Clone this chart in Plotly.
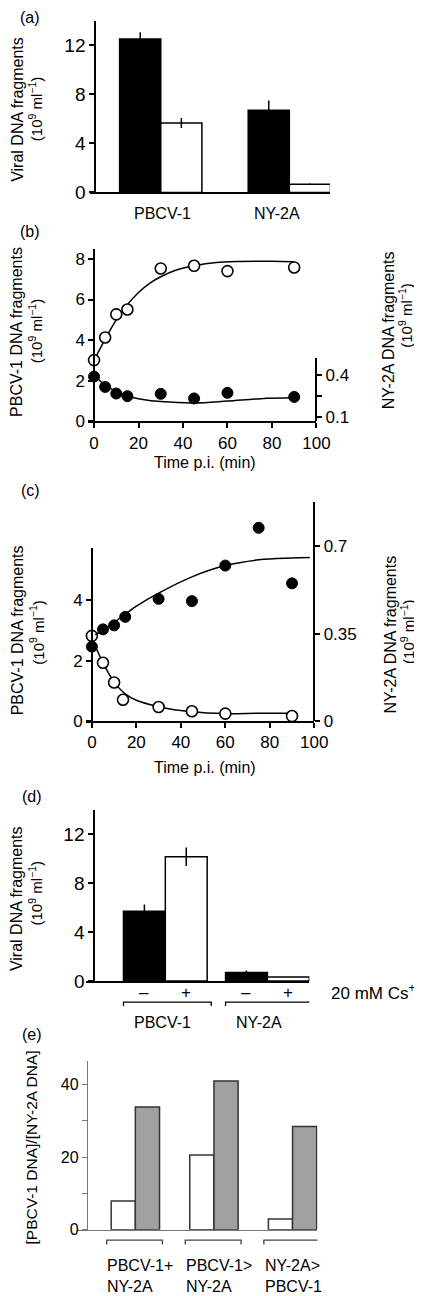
import plotly.graph_objects as go

W, H = 422, 1296
FONT = "Liberation Sans, Arial, sans-serif"


def PX(x):
    return x / W


def PY(y):
    return 1 - y / H


# ---------------- data ----------------
# (a)
a_groups = ["PBCV-1", "NY-2A"]
a_black = [12.5, 6.7]
a_black_err = [0.55, 0.8]
a_white = [5.66, 0.67]
a_white_err = [0.4, 0.05]

# (b)
b_time = [0, 5, 10, 15, 30, 45, 60, 90]
b_pbcv1 = [3.02, 4.13, 5.27, 5.51, 7.53, 7.66, 7.40, 7.58]
b_ny2a = [0.388, 0.314, 0.267, 0.248, 0.265, 0.232, 0.272, 0.243]
b_fit_time_p = [0, 5, 10, 15, 20, 25, 30, 37, 45, 55, 65, 80, 90]
b_fit_pbcv1 = [3.0, 4.05, 5.0, 5.75, 6.35, 6.8, 7.12, 7.45, 7.66, 7.82, 7.87, 7.88, 7.86]
b_fit_time_n = [0, 5, 10, 15, 22, 30, 45, 60, 75, 90]
b_fit_ny2a = [0.40, 0.325, 0.283, 0.25, 0.225, 0.21, 0.20, 0.213, 0.23, 0.236]

# (c)
c_time_p = [0, 5, 10, 14, 30, 45, 60, 90]
c_pbcv1 = [2.82, 1.93, 1.28, 0.71, 0.47, 0.33, 0.25, 0.17]
c_time_n = [0, 5, 10, 15, 30, 45, 60, 75, 90]
c_ny2a = [0.298, 0.367, 0.383, 0.417, 0.489, 0.48, 0.622, 0.773, 0.551]
c_fit_time_p = [0, 5, 10, 15, 20, 30, 45, 60, 75, 90]
c_fit_pbcv1 = [2.75, 1.93, 1.3, 0.9, 0.69, 0.48, 0.31, 0.25, 0.26, 0.26]
c_fit_time_n = [1.5, 5, 10, 15, 20, 30, 45, 60, 75, 90, 98]
c_fit_ny2a = [0.345, 0.365, 0.395, 0.428, 0.46, 0.512, 0.577, 0.622, 0.645, 0.652, 0.654]

# (d)
d_groups = ["PBCV-1", "NY-2A"]
d_signs = ["–", "+"]
d_minus = [5.7, 0.7]
d_minus_err = [0.55, 0.15]
d_plus = [10.16, 0.32]
d_plus_err = [0.75, 0.0]

# (e)
e_groups = ["PBCV-1+<br>NY-2A", "PBCV-1><br>NY-2A", "NY-2A><br>PBCV-1"]
e_white = [7.9, 20.6, 3.0]
e_gray = [33.8, 40.9, 28.4]

# ---------------- figure ----------------
fig = go.Figure()

# (a) bars
wa = 0.32
fig.add_trace(go.Bar(x=a_groups, y=a_black, width=wa, offset=-wa, xaxis="x", yaxis="y",
                     marker=dict(color="black", line=dict(color="black", width=1.5)),
                     error_y=dict(type="data", array=a_black_err, color="black", thickness=1.5, width=0),
                     name="black"))
fig.add_trace(go.Bar(x=a_groups, y=a_white, width=wa, offset=0, xaxis="x", yaxis="y",
                     marker=dict(color="white", line=dict(color="black", width=1.5)),
                     error_y=dict(type="data", array=a_white_err, color="black", thickness=1.5, width=0),
                     name="white"))

# (b)
line_style = dict(color="black", width=1.5, shape="spline", smoothing=1.0)
fig.add_trace(go.Scatter(x=b_fit_time_p, y=b_fit_pbcv1, mode="lines", line=line_style,
                         xaxis="x2", yaxis="y2", name="PBCV-1 fit"))
fig.add_trace(go.Scatter(x=b_fit_time_n, y=b_fit_ny2a, mode="lines", line=line_style,
                         xaxis="x2", yaxis="y3", name="NY-2A fit"))
fig.add_trace(go.Scatter(x=b_time, y=b_pbcv1, mode="markers", cliponaxis=False,
                         marker=dict(size=11, color="white", line=dict(color="black", width=1.6)),
                         xaxis="x2", yaxis="y2", name="PBCV-1"))
fig.add_trace(go.Scatter(x=b_time, y=b_ny2a, mode="markers", cliponaxis=False,
                         marker=dict(size=11, color="black", line=dict(color="black", width=1)),
                         xaxis="x2", yaxis="y3", name="NY-2A"))

# (c)
fig.add_trace(go.Scatter(x=c_fit_time_p, y=c_fit_pbcv1, mode="lines", line=line_style,
                         xaxis="x3", yaxis="y4", name="PBCV-1 fit"))
fig.add_trace(go.Scatter(x=c_fit_time_n, y=c_fit_ny2a, mode="lines", line=line_style,
                         xaxis="x3", yaxis="y5", name="NY-2A fit"))
fig.add_trace(go.Scatter(x=c_time_n, y=c_ny2a, mode="markers", cliponaxis=False,
                         marker=dict(size=11, color="black", line=dict(color="black", width=1)),
                         xaxis="x3", yaxis="y5", name="NY-2A"))
fig.add_trace(go.Scatter(x=c_time_p, y=c_pbcv1, mode="markers", cliponaxis=False,
                         marker=dict(size=11, color="white", line=dict(color="black", width=1.6)),
                         xaxis="x3", yaxis="y4", name="PBCV-1"))

# (d) bars
wd = 0.41
fig.add_trace(go.Bar(x=d_groups, y=d_minus, width=wd, offset=-wd, xaxis="x4", yaxis="y6",
                     marker=dict(color="black", line=dict(color="black", width=1.5)),
                     error_y=dict(type="data", array=d_minus_err, color="black", thickness=1.5, width=0),
                     name="– Cs+"))
fig.add_trace(go.Bar(x=d_groups, y=d_plus, width=wd, offset=0, xaxis="x4", yaxis="y6",
                     marker=dict(color="white", line=dict(color="black", width=1.5)),
                     error_y=dict(type="data", array=d_plus_err, color="black", thickness=1.5, width=0),
                     name="+ Cs+"))

# (e) bars
we = 0.3075
e_idx = list(range(len(e_groups)))
fig.add_trace(go.Bar(x=e_idx, y=e_white, width=we, offset=-we, xaxis="x5", yaxis="y7",
                     marker=dict(color="white", line=dict(color="#333333", width=1.5)), name="white"))
fig.add_trace(go.Bar(x=e_idx, y=e_gray, width=we, offset=0, xaxis="x5", yaxis="y7",
                     marker=dict(color="#a0a0a0", line=dict(color="#333333", width=1.5)), name="gray"))

# ---------------- axes ----------------
def tf(size):
    return dict(family=FONT, size=size, color="black")


base = dict(showline=True, linecolor="black", linewidth=1.5, ticks="outside", ticklen=5,
            tickwidth=1.5, tickcolor="black", showgrid=False, zeroline=False, tickfont=tf(17))
cat = dict(showline=True, linecolor="black", linewidth=1.5, ticks="", showticklabels=False,
           showgrid=False, zeroline=False)

layout_axes = dict(
    # (a)
    xaxis=dict(cat, domain=[PX(85), PX(333)], anchor="y", type="category", range=[-0.549, 1.316]),
    yaxis=dict(base, domain=[PY(186), PY(13)], anchor="free", position=PX(90), range=[0, 13.98],
               tickvals=[0, 4, 8, 12], tickfont=tf(19)),
    # (b)
    xaxis2=dict(base, domain=[PX(83), PX(319)], anchor="y2", range=[-2.6, 100],
                tickvals=[0, 20, 40, 60, 80, 100], ticklen=5),
    yaxis2=dict(base, domain=[PY(417), PY(243)], anchor="free", position=PX(89), range=[0, 8.49],
                tickvals=[0, 2, 4, 6, 8]),
    yaxis3=dict(base, domain=[PY(417), PY(353)], anchor="free", position=PX(319), side="right",
                range=[0.068, 0.52], tickvals=[0.1, 0.25, 0.4], ticktext=["0.1", " ", "0.4"]),
    # (c)
    xaxis3=dict(base, domain=[PX(81), PX(317)], anchor="y4", range=[-2.5, 100.1],
                tickvals=[0, 20, 40, 60, 80, 100]),
    yaxis4=dict(base, domain=[PY(719.3), PY(545)], anchor="free", position=PX(86.7), range=[0, 5.71],
                tickvals=[0, 2, 4]),
    yaxis5=dict(base, domain=[PY(719.3), PY(498)], anchor="free", position=PX(317), side="right",
                range=[0, 0.877], tickvals=[0, 0.35, 0.7], ticktext=["0", "0.35", "0.7"]),
    # (d)
    xaxis4=dict(cat, domain=[PX(81), PX(311.7)], anchor="y6", type="category", range=[-0.774, 1.411]),
    yaxis6=dict(base, domain=[PY(981.3), PY(809.3)], anchor="free", position=PX(89), range=[0, 13.95],
                tickvals=[0, 4, 8, 12], tickfont=tf(19)),
    # (e)
    xaxis5=dict(cat, domain=[PX(71), PX(320)], anchor="y7", range=[-0.747, 2.316], linecolor="#777777",
                linewidth=1.3),
    yaxis7=dict(base, domain=[PY(1232.3), PY(1061.7)], anchor="free", position=PX(81.7), range=[0, 46.5],
                tickvals=[0, 10, 20, 30, 40], ticktext=["0", " ", "20", " ", "40"], tickfont=tf(16),
                linecolor="#777777", tickcolor="#777777", linewidth=1.3, tickwidth=1.3),
)

# ---------------- annotations ----------------
ann = []


def text(x, y, t, size=16, angle=0, xanchor="center", align="center", color="black"):
    ann.append(dict(x=PX(x), y=PY(y), xref="paper", yref="paper", text=t, showarrow=False,
                    textangle=angle, xanchor=xanchor, yanchor="middle", align=align,
                    font=dict(family=FONT, size=size, color=color)))


units = "(10<sup>9</sup> ml<sup>−1</sup>)"

# panel labels
for lab, (x, y) in zip(["(a)", "(b)", "(c)", "(d)", "(e)"],
                       [(23, 10), (23, 225), (23, 487), (25, 795), (25, 1035)]):
    text(x, y, lab)

# (a)
text(9, 102, "Viral DNA fragments", angle=-90)
text(28, 102, units, size=15, angle=-90)
for g, shift in zip(a_groups, [2, -12]):
    ann.append(dict(x=g, y=PY(207), xref="x", yref="paper", text=g, showarrow=False, xshift=shift,
                    yanchor="middle", font=dict(family=FONT, size=16, color="black")))

# (b)
text(9, 327, "PBCV-1 DNA fragments", angle=-90)
text(28, 326, units, size=15, angle=-90)
text(393, 325, "NY-2A DNA fragments", angle=-90)
text(411, 310, units, size=15, angle=-90)
text(204, 458, "Time p.i. (min)")

# (c)
text(10, 628, "PBCV-1 DNA fragments", angle=-90)
text(30, 630, units, size=15, angle=-90)
text(396, 632, "NY-2A DNA fragments", angle=-90)
text(413, 629, units, size=15, angle=-90)
text(204, 766, "Time p.i. (min)")

# (d)
text(9, 898, "Viral DNA fragments", angle=-90)
text(28, 893, units, size=15, angle=-90)
for g in d_groups:
    for sgn, off in zip(d_signs, [-wd / 2, wd / 2]):
        ann.append(dict(x=d_groups.index(g) + off, y=PY(992.5), xref="x4", yref="paper", text=sgn,
                        showarrow=False, yanchor="middle",
                        font=dict(family=FONT, size=17, color="black")))
text(331.5, 992, "20 mM Cs<sup>+</sup>", xanchor="left", size=17)
for g, shift in zip(d_groups, [-3, -8]):
    ann.append(dict(x=d_groups.index(g), y=PY(1023), xref="x4", yref="paper", text=g, xshift=shift,
                    showarrow=False, yanchor="middle", font=dict(family=FONT, size=16, color="black")))

# (e)
text(24, 1149, "[PBCV-1 DNA]/[NY-2A DNA]", size=15.5, angle=-90)
for i, g in enumerate(e_groups):
    ann.append(dict(x=i, y=PY(1278.5), xref="x5", yref="paper", text=g, xshift=-30,
                    showarrow=False, xanchor="left", yanchor="middle", align="left",
                    font=dict(family=FONT, size=16, color="black")))

# ---------------- brackets ----------------
shapes = []


def bracket(xref, xc, half, y, drop, color):
    shapes.append(dict(type="path", xref=xref, yref="paper",
                       path=f"M {xc - half},{PY(y + drop)} L {xc - half},{PY(y)} "
                            f"L {xc + half},{PY(y)} L {xc + half},{PY(y + drop)}",
                       line=dict(color=color, width=1.3)))


for i, _ in enumerate(d_groups):
    bracket("x4", i + 0.02, 0.43, 1002.7, 3.8, "black")
for i, _ in enumerate(e_groups):
    bracket("x5", i - 0.01, 0.355, 1242.7, 4.5, "#444444")

fig.update_layout(
    width=W, height=H, margin=dict(l=0, r=0, t=0, b=0),
    paper_bgcolor="white", plot_bgcolor="rgba(0,0,0,0)",
    showlegend=False, barmode="overlay",
    annotations=ann, shapes=shapes,
    font=dict(family=FONT, size=16, color="black"),
    **layout_axes,
)

fig.write_html("out.html")
